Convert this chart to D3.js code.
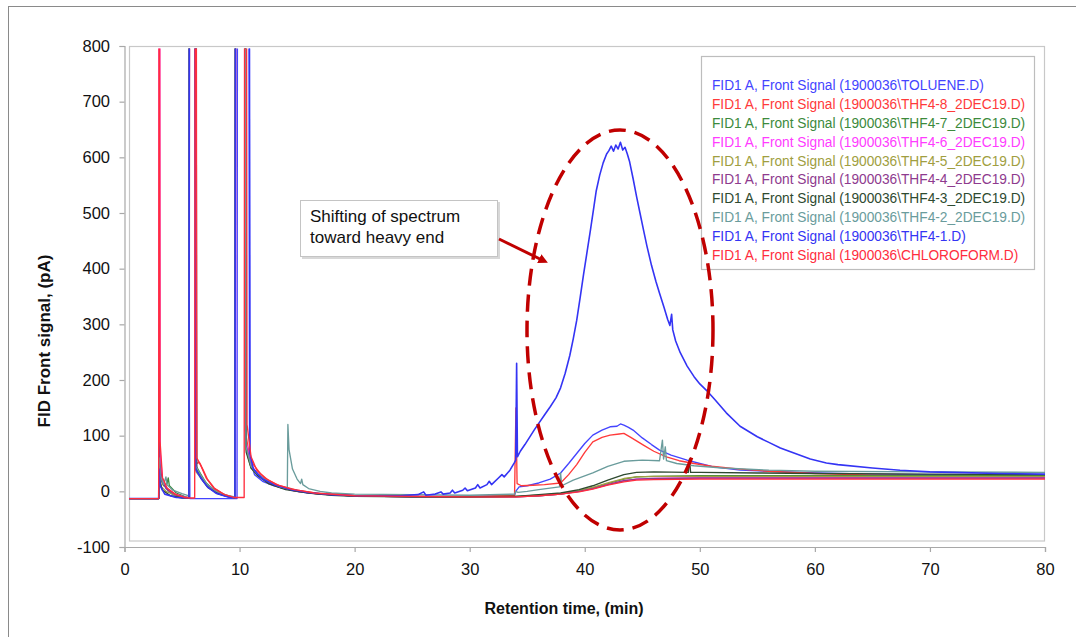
<!DOCTYPE html>
<html><head><meta charset="utf-8">
<script src="https://cdn.jsdelivr.net/npm/d3@7"></script>
<style>
body{margin:0;background:#fff;}
svg{display:block;font-family:"Liberation Sans",Arial,sans-serif;}
</style>
</head><body>
<svg id="chart" width="1076" height="637"></svg>
<script>
// ---------- data ----------
const xTicks = [0,10,20,30,40,50,60,70,80];
const yTicks = [-100,0,100,200,300,400,500,600,700,800];
const xTitle = "Retention time, (min)";
const yTitle = "FID Front signal, (pA)";
const noteLines = ["Shifting of spectrum","toward heavy end"];

const seriesNames = [
  "FID1 A, Front Signal (1900036\\TOLUENE.D)",
  "FID1 A, Front Signal (1900036\\THF4-8_2DEC19.D)",
  "FID1 A, Front Signal (1900036\\THF4-7_2DEC19.D)",
  "FID1 A, Front Signal (1900036\\THF4-6_2DEC19.D)",
  "FID1 A, Front Signal (1900036\\THF4-5_2DEC19.D)",
  "FID1 A, Front Signal (1900036\\THF4-4_2DEC19.D)",
  "FID1 A, Front Signal (1900036\\THF4-3_2DEC19.D)",
  "FID1 A, Front Signal (1900036\\THF4-2_2DEC19.D)",
  "FID1 A, Front Signal (1900036\\THF4-1.D)",
  "FID1 A, Front Signal (1900036\\CHLOROFORM.D)"
];
const seriesColors = ["#4444ff","#ff3a3a","#3c8a3c","#ff3cff","#a09e40","#8e3a8e","#2e4a30","#6a9c9c","#3434f4","#ff2d3d"];

const toluene = [[0,-13],[2.97,-13],[3.0,300],[3.05,60],[3.2,25],[3.6,5],[4.2,-6],[5.0,-11],[5.58,-12],[5.62,227],[5.68,-13],[9.78,-13],[9.82,1000],[10.86,1000],[10.92,55],[11.3,30],[12,18],[13,10],[14.5,2],[16,-3],[18,-6],[20,-8],[25,-9],[30,-9],[33.9,-7],[34.0,0],[34.3,8],[35,10],[36,15],[37,22],[37.9,33],[38.6,50],[39.3,68],[40,86],[40.7,101],[41.5,110],[42.2,116],[42.8,117],[43.1,121],[43.4,119],[43.8,115],[44.2,110],[45,96],[45.8,84],[46.5,74],[47.5,65],[48.9,56],[50,50],[51.2,44],[53.5,38],[56,36],[60,33],[65,31],[70,30],[75,30],[80,30]];

const thf8 = [[0,-13],[2.97,-13],[3.0,150],[3.06,40],[3.3,15],[3.8,2],[4.6,-7],[5.5,-11],[5.62,-12],[5.66,1000],[6.2,1000],[6.26,50],[6.5,52],[6.8,40],[7.2,22],[7.8,6],[8.6,-5],[9.4,-10],[9.62,-11],[9.66,1000],[10.45,1000],[10.5,110],[10.8,70],[11.2,48],[11.8,32],[12.5,20],[13.5,10],[15,2],[17,-4],[20,-8],[25,-9],[30,-9],[33.9,-7],[34.02,150],[34.12,14],[34.5,10],[35.5,11],[36.5,12],[37.9,15],[38.6,30],[39.3,48],[40,70],[40.7,89],[41.5,97],[42.2,101],[43,103],[43.4,104],[44,97],[45.1,83],[46,72],[47.1,62],[48.2,55],[49.5,50],[51,45],[53.5,40],[56,36],[60,32],[65,29],[70,28],[75,27],[80,26]];

const thf7 = [[0,-13],[2.97,-13],[3.02,60],[3.1,25],[3.4,10],[3.7,14],[3.8,24],[3.9,10],[4.5,-3],[5.3,-10],[5.6,-12],[5.64,1000],[6.18,1000],[6.24,45],[6.6,32],[7.1,15],[7.8,2],[8.6,-7],[9.4,-11],[9.62,-12],[9.66,1000],[10.5,1000],[10.56,80],[11,45],[11.6,30],[12.5,17],[13.5,8],[15,1],[17,-5],[20,-8],[25,-10],[30,-10],[34,-9],[36,-7],[37.9,-4],[39.5,1],[40.7,6],[42,14],[43.4,22],[44.5,26],[46,27],[50,28],[60,28],[70,28],[80,28]];

const thf6 = [[0,-13],[2.97,-13],[3.0,1000],[3.06,1000],[3.1,70],[3.3,20],[3.7,5],[4.4,-5],[5.2,-10],[5.6,-12],[5.65,1000],[6.2,1000],[6.26,40],[6.6,28],[7.1,12],[7.8,0],[8.7,-8],[9.5,-11],[9.64,-12],[9.68,1000],[10.48,1000],[10.54,90],[11,48],[11.6,30],[12.5,16],[13.5,7],[15,0],[17,-5],[20,-8],[25,-10],[30,-10],[34,-10],[36,-8],[37.9,-5],[39.5,0],[40.7,5],[42,12],[43.4,19],[44.5,22],[46,23],[50,24],[60,24],[70,24],[80,24]];

const thf5 = [[0,-13],[2.97,-13],[3.03,30],[3.2,8],[3.6,0],[4.4,-7],[5.2,-11],[5.6,-12],[5.64,1000],[6.16,1000],[6.22,35],[6.6,25],[7.2,9],[8,-3],[8.9,-9],[9.6,-12],[9.64,1000],[10.5,1000],[10.56,75],[11,42],[11.6,28],[12.5,15],[13.5,7],[15,0],[17,-5],[20,-8],[25,-10],[30,-10],[34,-10],[36,-8],[37.9,-5],[39.5,1],[40.7,7],[42,15],[43.4,23],[44.5,26],[46,27],[50,27],[60,27],[70,27],[80,27]];

const thf4 = [[0,-13],[2.97,-13],[3.0,200],[3.06,50],[3.3,15],[3.8,2],[4.5,-7],[5.3,-11],[5.6,-12],[5.63,1000],[6.1,1000],[6.16,40],[6.6,27],[7.2,10],[8,-2],[8.9,-9],[9.6,-12],[9.64,1000],[10.46,1000],[10.52,85],[11,46],[11.6,30],[12.5,16],[13.5,7],[15,0],[17,-5],[20,-8],[25,-10],[30,-10],[34,-10],[36,-8],[37.9,-5],[39.5,0],[40.7,5],[42,12],[43.4,19],[44.5,22],[46,23],[50,24],[60,24],[70,24],[80,24]];

const thf3 = [[0,-13],[2.97,-13],[3.03,20],[3.3,2],[4,-8],[5,-12],[5.6,-12],[5.64,1000],[6.22,1000],[6.28,40],[6.7,22],[7.3,6],[8.2,-5],[9.2,-10],[9.6,-11],[9.64,1000],[10.52,1000],[10.58,70],[11,42],[11.6,28],[12.5,14],[14,3],[16,-3],[18,-7],[20,-9],[25,-10],[30,-10],[34,-9],[36,-6],[37.9,-3],[39.5,3],[40.7,10],[42,20],[43.4,30],[44.5,34],[46,35],[49,34],[49.1,58],[49.2,34],[50,34],[55,33],[60,32],[70,31],[80,30]];

const thf2 = [[0,-13],[2.97,-13],[3.02,60],[3.1,30],[3.4,12],[3.6,26],[3.7,12],[4.2,2],[5,-4],[5.6,-8],[5.64,1000],[6.15,1000],[6.2,45],[6.6,30],[7.2,12],[8,0],[9,-8],[9.62,-10],[9.66,1000],[10.5,1000],[10.56,80],[11,45],[11.5,32],[12.5,18],[13.5,8],[14.15,5],[14.2,120],[14.3,75],[14.6,40],[15,22],[15.3,14],[15.4,22],[15.5,12],[16,5],[17,0],[18,-3],[20,-5],[25,-6],[30,-7],[33.9,-5],[34.0,0],[34.2,-2],[35,0],[36,3],[37.8,8],[37.9,33],[38.0,10],[39,20],[40.7,33],[42,45],[43.4,54],[45,56],[46.5,55],[46.75,92],[46.85,58],[47.0,80],[47.1,55],[48,50],[49.5,46],[52,42],[56,38],[60,36],[70,35],[80,34]];

const thf1 = [[0,-13],[2.97,-13],[3.0,40],[3.1,10],[3.5,-5],[4.5,-11],[5.6,-12],[5.64,1000],[6.12,1000],[6.18,40],[6.6,25],[7.2,8],[8,-4],[9,-10],[9.6,-12],[9.65,1000],[10.82,1000],[10.88,70],[11.2,40],[12,22],[13,12],[14.5,3],[16,-2],[18,-6],[20,-8],[22,-8],[24,-8],[25.5,-6],[26,-1],[26.2,-7],[27,-5],[27.5,-1],[27.7,-5],[28.3,-3],[28.5,2],[28.7,-3],[29.4,2],[29.6,6],[29.8,1],[30.5,6],[30.7,12],[30.9,6],[31.5,12],[31.7,18],[31.9,12],[32.5,24],[32.8,30],[33.0,26],[33.5,38],[33.9,52],[34.0,56],[34.08,230],[34.15,62],[34.4,72],[34.8,84],[35.2,97],[35.6,110],[36,122],[36.5,137],[37,152],[37.5,168],[37.9,186],[38.3,212],[38.7,244],[39.0,274],[39.3,307],[39.6,348],[39.9,390],[40.2,430],[40.5,470],[40.8,512],[41.0,540],[41.3,568],[41.6,590],[41.9,606],[42.1,612],[42.3,620],[42.5,611],[42.7,622],[42.9,615],[43.1,627],[43.3,613],[43.5,618],[43.7,606],[43.9,592],[44.2,562],[44.5,530],[44.8,500],[45.1,470],[45.4,441],[45.8,406],[46.2,376],[46.5,356],[46.9,330],[47.2,309],[47.4,298],[47.55,318],[47.65,290],[47.9,270],[48.3,249],[48.9,225],[49.5,206],[50,193],[50.6,181],[51.3,165],[52.3,141],[53.5,117],[55,98],[56,88],[57,78],[58,70],[59.6,58],[61,51],[62,48],[65,42],[67.4,38],[70,35],[72,34],[76,32],[80,31]];

const chloroform = [[0,-13],[2.97,-13],[3.0,1000],[3.05,1000],[3.09,90],[3.3,25],[3.7,6],[4.4,-5],[5.2,-11],[5.6,-12],[6.1,-12],[6.14,1000],[6.24,1000],[6.28,60],[6.6,48],[7.1,24],[7.8,5],[8.7,-6],[9.5,-11],[10.4,-11],[10.44,1000],[10.6,1000],[10.65,120],[11,62],[11.5,38],[12.2,24],[13.2,12],[14.5,4],[16.5,-3],[20,-8],[25,-9],[30,-10],[34,-10],[36,-8],[37.9,-5],[39.5,-1],[40.7,4],[42,11],[43.4,17],[44.5,20],[46,21],[50,22],[60,22],[70,22],[80,22]];

const seriesData = [toluene, thf8, thf7, thf6, thf5, thf4, thf3, thf2, thf1, chloroform];

// ---------- drawing ----------
const svg = d3.select("#chart");
const x = d3.scaleLinear().domain([0,80]).range([124.5,1045]);
const y = d3.scaleLinear().domain([-100,800]).range([547,46]);

// outer frame
svg.append("rect").attr("x",8.5).attr("y",6.5).attr("width",1200).attr("height",800)
  .attr("fill","#fff").attr("stroke","#8a8a8a").attr("stroke-width",1);

// plot area box
svg.append("rect").attr("x",129.5).attr("y",46.5).attr("width",915).attr("height",494.5)
  .attr("fill","none").attr("stroke","#c8c8c8").attr("stroke-width",1.2);

svg.append("clipPath").attr("id","plotclip").append("rect")
  .attr("x",129).attr("y",48.5).attr("width",916).attr("height",493);

// axes
const fmt = d => String(d);
const yAxis = d3.axisLeft(y).tickValues(yTicks).tickSize(5).tickPadding(9.5).tickFormat(fmt);
const gy = svg.append("g").attr("transform","translate(124.5,0)").call(yAxis);
const xAxis = d3.axisBottom(x).tickValues(xTicks).tickSize(5).tickPadding(11).tickFormat(fmt);
const gx = svg.append("g").attr("transform","translate(0,547)").call(xAxis);
[gx,gy].forEach(g=>{
  g.select(".domain").attr("stroke","#a8a8a8").attr("stroke-width",1.2);
  g.selectAll(".tick line").attr("stroke","#a8a8a8").attr("stroke-width",1.2);
  g.selectAll(".tick text").attr("fill","#111").style("font-size","16.5px").style("font-family","'Liberation Sans',Arial,sans-serif");
});

// series lines
const line = d3.line().x(d=>x(d[0])).y(d=>y(d[1]));
const lines = svg.append("g").attr("clip-path","url(#plotclip)");
seriesData.forEach((s,i)=>{
  lines.append("path").datum(s).attr("d",line)
    .attr("fill","none").attr("stroke",seriesColors[i])
    .attr("stroke-width", i===8 ? 1.6 : 1.35)
    .attr("stroke-linejoin","round");
});

// axis titles
svg.append("text").attr("x",564).attr("y",614).attr("text-anchor","middle")
  .style("font-weight","bold").style("font-size","16px").attr("fill","#111").text(xTitle);
svg.append("text").attr("transform","translate(50,341) rotate(-90)").attr("text-anchor","middle")
  .style("font-weight","bold").style("font-size","17px").attr("fill","#111").text(yTitle);

// legend
svg.append("rect").attr("x",701.5).attr("y",56.5).attr("width",333).attr("height",213)
  .attr("fill","#fff").attr("stroke","#bdbdbd").attr("stroke-width",1.2);
const lg = svg.append("g").attr("transform","translate(712,0) scale(0.915,1)");
seriesNames.forEach((n,i)=>{
  lg.append("text").attr("x",0).attr("y",90.5+i*18.8)
    .style("font-size","15px").attr("fill",seriesColors[i]).text(n);
});

// annotation box
svg.append("rect").attr("x",302).attr("y",202).attr("width",198).attr("height",57).attr("fill","#d8d8d8");
svg.append("rect").attr("x",300.5).attr("y",200.5).attr("width",197).attr("height",56)
  .attr("fill","#fff").attr("stroke","#c4c4c4").attr("stroke-width",1);
noteLines.forEach((t,i)=>{
  svg.append("text").attr("x",310).attr("y",221.5+i*21.5).style("font-size","17px").attr("fill","#111").text(t);
});

// arrow
svg.append("defs").append("marker").attr("id","ah").attr("viewBox","0 0 10 10")
  .attr("refX",2).attr("refY",5).attr("markerWidth",3.2).attr("markerHeight",3.2)
  .attr("orient","auto").append("path").attr("d","M0,0 L10,5 L0,10 z").attr("fill","#c00000");
svg.append("line").attr("x1",499).attr("y1",239).attr("x2",541).attr("y2",259.5)
  .attr("stroke","#c00000").attr("stroke-width",3).attr("marker-end","url(#ah)");

// dashed ellipse
svg.append("ellipse").attr("cx",620).attr("cy",330).attr("rx",93).attr("ry",200)
  .attr("fill","none").attr("stroke","#c00000").attr("stroke-width",3.5).attr("stroke-dasharray","17 9");
</script>
</body></html>
